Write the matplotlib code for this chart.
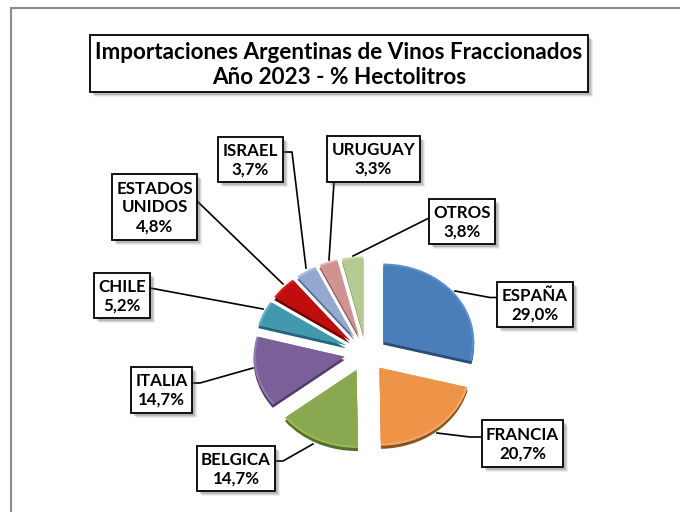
import matplotlib
matplotlib.use('Agg')
import matplotlib.pyplot as plt
from matplotlib.patches import Rectangle

plt.rcParams['font.family'] = ['Lato', 'DejaVu Sans']

W, H = 680, 512

paises = ['ESPAÑA', 'FRANCIA', 'BELGICA', 'ITALIA', 'CHILE', 'ESTADOS\nUNIDOS', 'ISRAEL', 'URUGUAY', 'OTROS']
valores = [29.0, 20.7, 14.7, 14.7, 5.2, 4.8, 3.7, 3.3, 3.8]
colores = ['#4A7EBB', '#EE9448', '#8AA84F', '#7A5F98', '#4298AE', '#C00D0D', '#94A9CF', '#D09392', '#B5CA92']
sombras = ['#2C4D75', '#8A5420', '#56702C', '#4E3A68', '#27667A', '#6E0505', '#5C6F94', '#8F5F5E', '#7D9160']
bordes = ['#5C90CC', '#F7A768', '#9BBB59', '#9478B4', '#62B4C8', '#DA2020', '#AFC0DF', '#E0AEAD', '#C8DAA8']

# caja de cada etiqueta (x0, y0, x1, y1) en pixeles
cajas = [(497, 282, 573, 327), (482, 420, 563, 467), (197, 446, 275, 491),
         (131, 367, 192, 413), (94, 273, 150, 318), (112, 174, 197, 240),
         (218, 137, 283, 182), (327, 136, 420, 182), (429, 199, 495, 244)]
guias = [[(497, 297.5), (490, 297.5), (455, 291)],
         [(482, 437), (470, 437), (437, 433)],
         [(275, 461), (283, 461), (313, 444)],
         [(192, 383), (200, 383), (253, 368)],
         [(150, 288), (263, 309)],
         [(197, 201), (283, 284)],
         [(283, 152), (292, 152), (306, 268)],
         [(334, 182), (329, 260)],
         [(429, 218), (353, 256)]]


def caja(ax, x0, y0, x1, y1, lw):
    # sombra difusa
    for d, a in [(5, 0.10), (4, 0.15), (3, 0.25)]:
        ax.add_patch(Rectangle((x0 + d, y0 + d), x1 - x0, y1 - y0, fc='#606060', ec='none', alpha=a, zorder=3))
    ax.add_patch(Rectangle((x0, y0), x1 - x0, y1 - y0, fc='white', ec='black', lw=lw, zorder=4))


fig = plt.figure(figsize=(W / 100, H / 100), dpi=100)

fondo = fig.add_axes([0, 0, 1, 1], zorder=1)
fondo.set_xlim(0, W)
fondo.set_ylim(H, 0)
fondo.axis('off')

# marco del grafico, sigue fuera de la imagen
fondo.plot([10.5, 10.5], [H + 5, 7.5], color='#8C8C8C', lw=1.5)
fondo.plot([10.5, W + 5], [7.5, 7.5], color='#8C8C8C', lw=1.5)

caja(fondo, 90, 35, 588, 92, 1.3)
fondo.text(339, 65, 'Importaciones Argentinas de Vinos Fraccionados\nAño 2023 - % Hectolitros',
           ha='center', va='center', fontsize=16.2, fontweight='bold', linespacing=1.22,
           color='black', zorder=5)

for nombre, valor, (x0, y0, x1, y1), guia in zip(paises, valores, cajas, guias):
    fondo.plot([p[0] for p in guia], [p[1] for p in guia], color='black', lw=1.2, zorder=2)
    caja(fondo, x0, y0, x1, y1, 1.3)
    etiqueta = nombre + '\n' + f'{valor:.1f}'.replace('.', ',') + '%'
    fondo.text((x0 + x1) / 2, (y0 + y1) / 2 + 0.5, etiqueta, ha='center', va='center',
               fontsize=12.2, fontweight='bold', linespacing=1.22, color='black', zorder=5)

# torta: centro (366, 353), radios 91 x 78 px
cx, cy, rx, ry = 366, 353, 91, 78
lim = 1.5
ax = fig.add_axes([(cx - rx * lim) / W, 1 - (cy + ry * lim) / H, 2 * rx * lim / W, 2 * ry * lim / H], zorder=2)
separacion = [0.24] * len(valores)
comun = dict(explode=separacion, startangle=90, counterclock=False, normalize=True)
ax.pie(valores, colors=sombras, center=(0, -0.04), radius=1.0, wedgeprops=dict(lw=0), **comun)
ax.pie(valores, colors=bordes, radius=1.0, wedgeprops=dict(lw=0), **comun)
ax.pie(valores, colors=colores, radius=0.975, wedgeprops=dict(lw=0), **comun)
ax.set_aspect('auto')
ax.set_xlim(-lim, lim)
ax.set_ylim(-lim, lim)
ax.patch.set_alpha(0)

fig.savefig('out.png', dpi=100)
